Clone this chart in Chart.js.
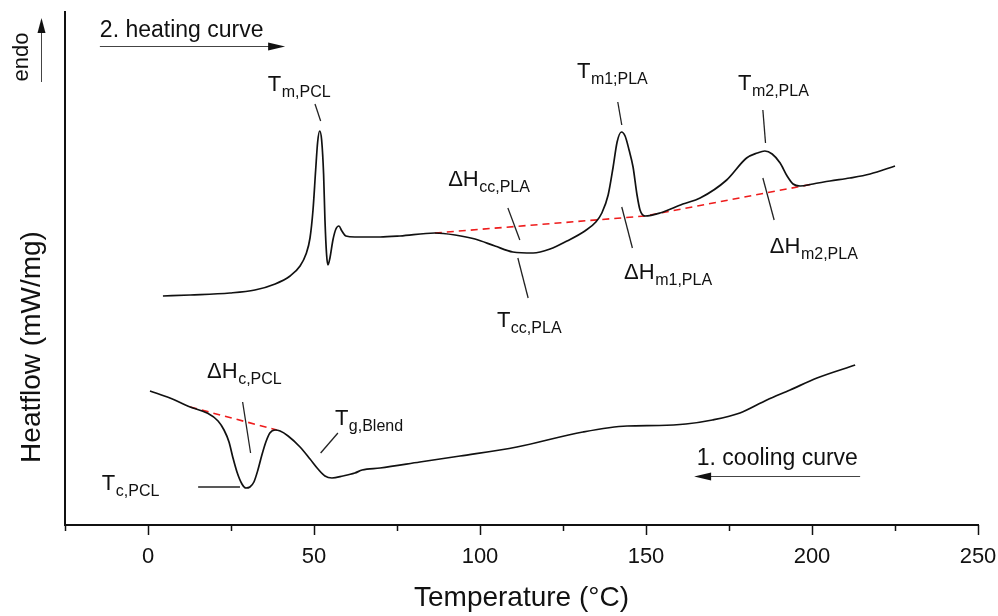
<!DOCTYPE html>
<html>
<head>
<meta charset="utf-8">
<script src="https://cdn.jsdelivr.net/npm/chart.js@4.4.0/dist/chart.umd.min.js"></script>
<style>
  html, body { margin: 0; padding: 0; background: #fff; }
</style>
</head>
<body>
<canvas id="dscChart" width="998" height="616"></canvas>
<script>
// 2. heating run
const heatTemp = [4.5, 12.7, 24.7, 32.2, 38.3, 42.8, 45.8, 47.6, 48.8, 49.7, 50.5, 51.1, 51.7, 52.3, 52.9, 53.3, 53.8, 54.2, 54.8, 55.7, 56.6, 57.5, 58.4, 59.6, 62.3, 69.9, 75.9, 86.4, 92.5, 98.5, 104.5, 109.9, 116.0, 121.1, 126.2, 131.6, 134.9, 136.7, 138.6, 140.1, 141.3, 142.6, 143.7, 144.9, 146.1, 147.3, 148.2, 149.7, 154.2, 161.1, 166.3, 174.3, 180.3, 183.5, 185.8, 188.0, 190.4, 192.5, 194.3, 196.4, 200.3, 205.4, 211.4, 217.5, 225.0];
const heatFlow = [2.29, 2.30, 2.32, 2.35, 2.41, 2.49, 2.59, 2.71, 2.87, 3.15, 3.55, 3.83, 3.94, 3.85, 3.50, 3.05, 2.70, 2.60, 2.67, 2.85, 2.96, 2.99, 2.94, 2.89, 2.88, 2.88, 2.89, 2.92, 2.90, 2.86, 2.79, 2.73, 2.72, 2.76, 2.84, 2.94, 3.03, 3.12, 3.30, 3.58, 3.83, 3.93, 3.89, 3.75, 3.58, 3.30, 3.15, 3.09, 3.12, 3.21, 3.27, 3.45, 3.67, 3.72, 3.74, 3.71, 3.62, 3.49, 3.41, 3.39, 3.41, 3.44, 3.47, 3.51, 3.59];

// 1. cooling run
const coolTemp = [0.6, 6.6, 12.7, 17.8, 21.1, 22.9, 24.4, 25.6, 26.8, 28.3, 29.5, 30.7, 31.9, 33.1, 34.3, 35.5, 36.7, 38.3, 39.8, 42.2, 45.8, 48.8, 51.2, 53.3, 55.4, 58.7, 62.3, 64.5, 69.9, 81.9, 94.0, 111.1, 131.0, 144.3, 154.0, 162.0, 170.0, 178.3, 186.4, 193.4, 201.5, 213.0];
const coolFlow = [1.34, 1.27, 1.18, 1.12, 1.04, 0.95, 0.83, 0.67, 0.53, 0.41, 0.37, 0.38, 0.43, 0.55, 0.70, 0.83, 0.92, 0.95, 0.94, 0.89, 0.78, 0.66, 0.56, 0.49, 0.47, 0.49, 0.52, 0.55, 0.57, 0.63, 0.69, 0.78, 0.93, 0.99, 0.995, 1.01, 1.05, 1.12, 1.25, 1.35, 1.47, 1.60];

// integration baselines
const heatBaseTemp = [86.4, 149.7, 200.3];
const heatBaseFlow = [2.92, 3.09, 3.41];
const coolBaseTemp = [12.7, 38.8];
const coolBaseFlow = [1.18, 0.95];

// x axis ticks
const majorTicks = [0, 50, 100, 150, 200, 250];

// labels: [main, subscript, temp, heatflow] at text start/baseline
const labels = [
  ['T', 'm,PCL', 36.1, 4.34],
  ['T', 'm1;PLA', 129.2, 4.47],
  ['T', 'm2,PLA', 177.7, 4.35],
  ['\u0394H', 'cc,PLA', 90.4, 3.39],
  ['T', 'cc,PLA', 105.1, 1.98],
  ['\u0394H', 'm1,PLA', 143.4, 2.46],
  ['\u0394H', 'm2,PLA', 187.3, 2.72],
  ['\u0394H', 'c,PCL', 17.8, 1.47],
  ['T', 'g,Blend', 56.3, 1.00],
  ['T', 'c,PCL', -13.9, 0.35]
];

// leader lines from labels to the curves
const leaders = [
  [50.3, 4.21, 52.0, 4.04],
  [108.4, 3.17, 112.0, 2.85],
  [111.4, 2.67, 114.5, 2.27],
  [141.5, 4.23, 142.7, 4.00],
  [142.7, 3.18, 145.9, 2.77],
  [185.2, 4.15, 186.0, 3.82],
  [185.2, 3.47, 188.6, 3.05],
  [28.5, 1.23, 30.9, 0.72],
  [57.2, 0.92, 52.0, 0.72],
  [15.1, 0.38, 27.7, 0.38]
];

const FONT = '"Liberation Sans", Arial, Helvetica, sans-serif';

const toXY = (xs, ys) => xs.map((x, i) => ({ x: x, y: ys[i] }));

const datasets = [
  {
    data: toXY(heatTemp, heatFlow),
    borderColor: '#111',
    borderWidth: 1.7,
    cubicInterpolationMode: 'monotone'
  },
  {
    data: toXY(coolTemp, coolFlow),
    borderColor: '#111',
    borderWidth: 1.7,
    cubicInterpolationMode: 'monotone'
  },
  {
    data: toXY(heatBaseTemp, heatBaseFlow),
    borderColor: '#ee1c1c',
    borderWidth: 1.6,
    borderDash: [7, 5]
  },
  {
    data: toXY(coolBaseTemp, coolBaseFlow),
    borderColor: '#ee1c1c',
    borderWidth: 1.6,
    borderDash: [7, 5]
  }
];

leaders.forEach(l => {
  datasets.push({
    data: [{ x: l[0], y: l[1] }, { x: l[2], y: l[3] }],
    borderColor: '#222',
    borderWidth: 1.3
  });
});

function arrowHead(ctx, x, y, dir) {
  // dir: 'right', 'left', 'up'
  ctx.beginPath();
  if (dir === 'right') {
    ctx.moveTo(x, y); ctx.lineTo(x - 17, y - 4); ctx.lineTo(x - 17, y + 4);
  } else if (dir === 'left') {
    ctx.moveTo(x, y); ctx.lineTo(x + 17, y - 4); ctx.lineTo(x + 17, y + 4);
  } else {
    ctx.moveTo(x, y); ctx.lineTo(x - 4, y + 15); ctx.lineTo(x + 4, y + 15);
  }
  ctx.closePath();
  ctx.fill();
}

const annotate = {
  id: 'annotate',
  afterDraw(chart) {
    const ctx = chart.ctx;
    const xs = chart.scales.x, ys = chart.scales.y;
    const area = chart.chartArea;
    ctx.save();
    ctx.fillStyle = '#111';
    ctx.strokeStyle = '#111';

    // tick marks, long on labelled values
    ctx.lineWidth = 1.5;
    for (let v = -25; v <= 250; v += 25) {
      const px = Math.round(xs.getPixelForValue(v)) + 0.5;
      const len = majorTicks.includes(v) ? 10 : 6;
      ctx.beginPath();
      ctx.moveTo(px, area.bottom);
      ctx.lineTo(px, area.bottom + len);
      ctx.stroke();
    }

    // peak and enthalpy labels
    ctx.textBaseline = 'alphabetic';
    ctx.textAlign = 'left';
    labels.forEach(([main, sub, t, h]) => {
      const px = xs.getPixelForValue(t);
      const py = ys.getPixelForValue(h);
      ctx.font = '22px ' + FONT;
      ctx.fillText(main, px, py);
      const w = ctx.measureText(main).width;
      ctx.font = '16px ' + FONT;
      ctx.fillText(sub, px + w + 0.5, py + 6);
    });

    // run direction arrows
    ctx.font = '23px ' + FONT;
    ctx.fillText('2. heating curve', xs.getPixelForValue(-14.5), ys.getPixelForValue(4.88));
    ctx.fillText('1. cooling curve', xs.getPixelForValue(165.3), ys.getPixelForValue(0.60));

    ctx.strokeStyle = '#444';
    ctx.lineWidth = 1;
    let ay = Math.round(ys.getPixelForValue(4.79)) + 0.5;
    let ax1 = xs.getPixelForValue(-14.5), ax2 = xs.getPixelForValue(41.3);
    ctx.beginPath(); ctx.moveTo(ax1, ay); ctx.lineTo(ax2 - 10, ay); ctx.stroke();
    ctx.fillStyle = '#111';
    arrowHead(ctx, ax2, ay, 'right');

    ay = Math.round(ys.getPixelForValue(0.49)) + 0.5;
    ax1 = xs.getPixelForValue(214.5); ax2 = xs.getPixelForValue(164.5);
    ctx.beginPath(); ctx.moveTo(ax1, ay); ctx.lineTo(ax2 + 10, ay); ctx.stroke();
    arrowHead(ctx, ax2, ay, 'left');

    // endotherm direction, beside the y axis
    const ex = area.left - 23.5;
    ctx.beginPath(); ctx.moveTo(ex, area.top + 70); ctx.lineTo(ex, area.top + 15); ctx.stroke();
    arrowHead(ctx, ex, area.top + 6, 'up');
    ctx.save();
    ctx.translate(area.left - 37, area.top + 45);
    ctx.rotate(-Math.PI / 2);
    ctx.textAlign = 'center';
    ctx.textBaseline = 'alphabetic';
    ctx.font = '22px ' + FONT;
    ctx.fillText('endo', 0, 0);
    ctx.restore();

    // y axis title
    ctx.save();
    ctx.translate(32, 347);
    ctx.rotate(-Math.PI / 2);
    ctx.textAlign = 'center';
    ctx.textBaseline = 'middle';
    ctx.font = '28px ' + FONT;
    ctx.fillStyle = '#111';
    ctx.fillText('Heatflow (mW/mg)', 0, 0);
    ctx.restore();

    ctx.restore();
  }
};

new Chart(document.getElementById('dscChart'), {
  type: 'line',
  data: { datasets: datasets },
  options: {
    responsive: false,
    animation: false,
    parsing: true,
    elements: { point: { radius: 0 } },
    layout: { padding: { left: 0, right: 20, top: 12, bottom: 0 } },
    plugins: {
      legend: { display: false },
      tooltip: { enabled: false }
    },
    scales: {
      x: {
        type: 'linear',
        min: -25,
        max: 250,
        afterFit: s => {
          s.height = 91;
          // let the last label hang past the axis end
          s.paddingLeft = 0;
          s.paddingRight = 0;
        },
        grid: { display: false, drawTicks: false },
        border: { display: true, color: '#111', width: 2 },
        ticks: {
          stepSize: 25,
          padding: 19,
          color: '#111',
          font: { family: FONT, size: 22 },
          callback: v => majorTicks.includes(v) ? String(v) : ''
        },
        title: {
          display: true,
          text: 'Temperature (°C)',
          color: '#111',
          font: { family: FONT, size: 28 },
          padding: { top: 0, bottom: 1 }
        }
      },
      y: {
        min: 0,
        max: 5.13,
        afterFit: s => { s.width = 65; },
        grid: { display: false, drawTicks: false },
        border: { display: true, color: '#111', width: 2 },
        ticks: { display: false }
      }
    }
  },
  plugins: [annotate]
});
</script>
</body>
</html>
